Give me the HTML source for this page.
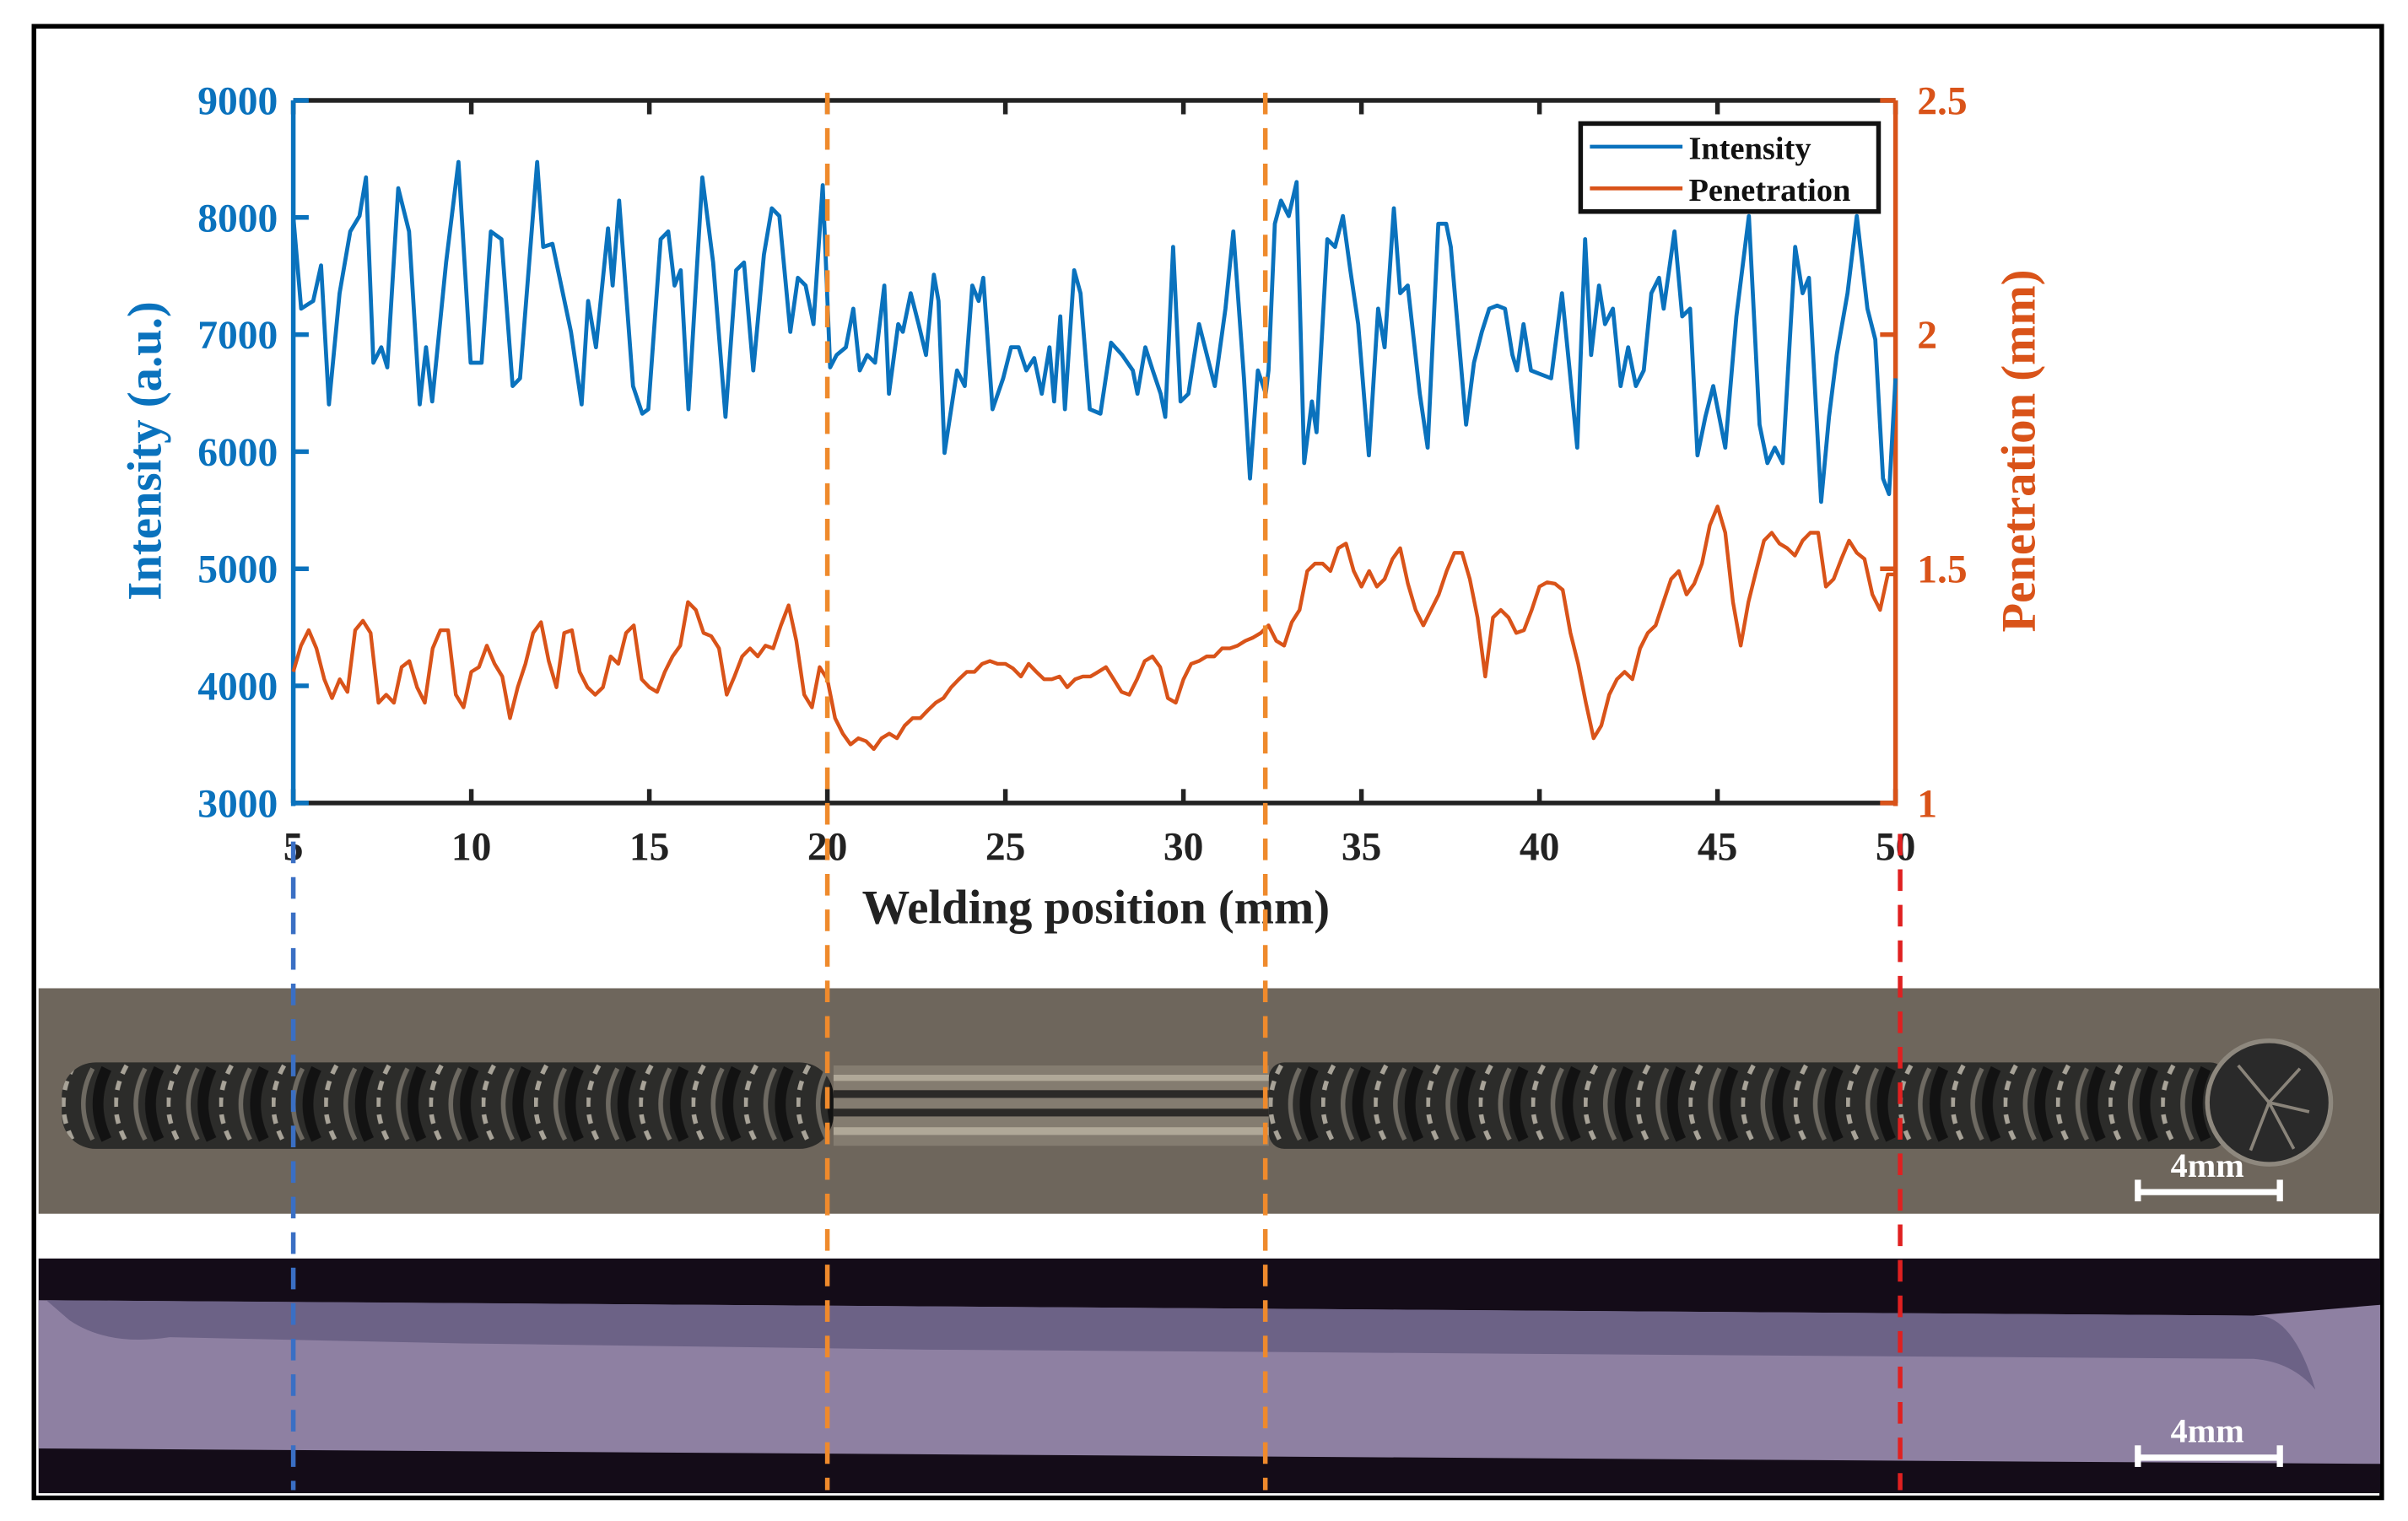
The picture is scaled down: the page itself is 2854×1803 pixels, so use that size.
<!DOCTYPE html>
<html><head><meta charset="utf-8"><style>
html,body{margin:0;padding:0;background:#fff;}
svg{display:block;}
text{font-family:"Liberation Serif",serif;font-weight:bold;}
</style></head><body>
<svg id="fig" width="2854" height="1803" viewBox="0 0 1560 985" preserveAspectRatio="none" xmlns="http://www.w3.org/2000/svg">
<defs>
<pattern id="ripple" x="40" y="0" width="34" height="985" patternUnits="userSpaceOnUse">
<rect x="0" y="0" width="34" height="985" fill="#2c2c2a"/>
<path d="M8,690 Q-6,715 8,740" stroke="#a8a398" stroke-width="3" fill="none" stroke-dasharray="6,5"/>
<path d="M20,692 Q8,715 20,738" stroke="#6e6a62" stroke-width="3" fill="none"/>
<path d="M29,692 Q18,715 29,738" stroke="#121212" stroke-width="7" fill="none"/>
</pattern>
</defs>
<rect x="0" y="0" width="1560" height="985" fill="#fff"/>
<rect x="22" y="17" width="1521" height="953" fill="none" stroke="#000" stroke-width="3"/>

<g>
<rect x="25" y="640" width="1517" height="146" fill="#6e665c"/>
<rect x="40" y="688" width="500" height="56" rx="22" fill="url(#ripple)"/>
<rect x="540" y="690" width="282" height="52" fill="#847c70"/>
<rect x="540" y="706" width="282" height="5" fill="#2c2a28"/>
<rect x="540" y="718" width="282" height="5" fill="#2c2a28"/>
<rect x="540" y="696" width="282" height="4" fill="#b0a898"/>
<rect x="540" y="730" width="282" height="5" fill="#b0a898"/>
<rect x="822" y="688" width="620" height="56" rx="10" fill="url(#ripple)"/>
<circle cx="1470" cy="714" r="40" fill="#2a2a2a" stroke="#8e887e" stroke-width="3"/>
<path d="M1470,714 L1450,690 M1470,714 L1490,692 M1470,714 L1496,720 M1470,714 L1458,745 M1470,714 L1486,744" stroke="#8a847a" stroke-width="2"/>
<line x1="1385" y1="772" x2="1477" y2="772" stroke="#fff" stroke-width="4"/>
<line x1="1385" y1="764" x2="1385" y2="778" stroke="#fff" stroke-width="4"/>
<line x1="1477" y1="764" x2="1477" y2="778" stroke="#fff" stroke-width="4"/>
<text x="1430" y="762" font-size="22" fill="#fff" text-anchor="middle">4mm</text>
</g>
<g>
<rect x="25" y="815" width="1517" height="152" fill="#140c18"/>
<path d="M25,842 L1460,852 L1542,845 L1542,948 L25,938 Z" fill="#8e80a2"/>
<path d="M30,842 L1460,852 Q1485,850 1500,900 Q1485,882 1460,880 L600,874 L300,870 L110,866 Q70,872 45,855 Z" fill="#6c6286"/>
<line x1="1385" y1="944" x2="1477" y2="944" stroke="#fff" stroke-width="4"/>
<line x1="1385" y1="936" x2="1385" y2="950" stroke="#fff" stroke-width="4"/>
<line x1="1477" y1="936" x2="1477" y2="950" stroke="#fff" stroke-width="4"/>
<text x="1430" y="934" font-size="22" fill="#fff" text-anchor="middle">4mm</text>
</g>

<g id="chart"></g>
<g id="overlay"></g>
</svg>
<script>
const xTicks=[5,10,15,20,25,30,35,40,45,50];
const yLeftTicks=[3000,4000,5000,6000,7000,8000,9000];
const yRightTicks=[1,1.5,2,2.5];
const yRightLabels=["1","1.5","2","2.5"];
const markerPositions=[5,20,32.3,50];
const intensityX=[5.0,5.22,5.56,5.78,6.0,6.3,6.6,6.86,7.04,7.25,7.47,7.64,7.95,8.25,8.55,8.73,8.9,9.29,9.64,9.98,10.29,10.55,10.85,11.16,11.37,11.85,12.02,12.28,12.8,13.1,13.28,13.5,13.84,13.97,14.15,14.54,14.8,14.97,15.32,15.53,15.71,15.88,16.1,16.49,16.79,17.14,17.44,17.66,17.92,18.22,18.44,18.65,18.96,19.17,19.39,19.61,19.87,20.08,20.26,20.52,20.73,20.91,21.12,21.34,21.6,21.73,21.99,22.12,22.34,22.56,22.77,22.99,23.12,23.29,23.64,23.86,24.07,24.25,24.38,24.64,24.94,25.16,25.37,25.59,25.81,26.02,26.24,26.37,26.54,26.67,26.93,27.11,27.37,27.67,27.97,28.28,28.58,28.71,28.93,29.14,29.36,29.49,29.71,29.92,30.14,30.44,30.88,31.18,31.4,31.7,31.87,32.09,32.31,32.39,32.57,32.74,32.96,33.18,33.39,33.61,33.74,34.04,34.26,34.48,34.69,34.91,35.21,35.47,35.65,35.91,36.09,36.3,36.64,36.86,37.16,37.38,37.51,37.94,38.16,38.38,38.59,38.81,39.03,39.24,39.37,39.55,39.76,39.98,40.33,40.63,40.85,41.06,41.28,41.45,41.67,41.84,42.06,42.28,42.49,42.71,42.93,43.14,43.36,43.49,43.79,44.01,44.23,44.44,44.66,44.88,45.22,45.53,45.88,46.18,46.4,46.61,46.83,47.18,47.39,47.57,47.91,48.13,48.35,48.65,48.91,49.21,49.43,49.65,49.82,50.0];
const intensityY=[8012,7221,7287,7590,6403,7353,7880,8012,8342,6759,6891,6720,8250,7880,6403,6891,6429,7616,8474,6759,6759,7880,7814,6561,6627,8474,7748,7775,7023,6403,7287,6891,7907,7419,8144,6561,6324,6363,7814,7880,7419,7550,6363,8342,7616,6297,7550,7616,6693,7682,8078,8012,7023,7485,7419,7089,8276,6720,6825,6891,7221,6693,6825,6759,7419,6495,7089,7023,7353,7089,6825,7511,7287,5990,6693,6561,7419,7287,7485,6363,6627,6891,6891,6693,6799,6495,6891,6429,7155,6363,7550,7353,6363,6324,6931,6825,6693,6495,6891,6693,6495,6297,7748,6429,6495,7089,6561,7221,7880,6627,5770,6693,6495,6693,7946,8144,8012,8302,5902,6429,6166,7814,7748,8012,7550,7089,5968,7221,6891,8078,7353,7419,6495,6034,7946,7946,7748,6231,6759,7023,7221,7247,7221,6825,6693,7089,6693,6667,6627,7353,6693,6034,7814,6825,7419,7089,7221,6561,6891,6561,6693,7353,7485,7221,7880,7155,7221,5968,6297,6561,6034,7155,8012,6231,5902,6034,5902,7748,7353,7485,5572,6297,6825,7353,8012,7221,6957,5770,5638,6627];
const penetration=[1.28,1.336,1.369,1.33,1.264,1.224,1.264,1.237,1.369,1.389,1.363,1.214,1.231,1.214,1.29,1.303,1.247,1.214,1.33,1.369,1.369,1.231,1.204,1.28,1.29,1.336,1.297,1.27,1.181,1.247,1.297,1.363,1.386,1.303,1.247,1.363,1.369,1.28,1.247,1.231,1.247,1.313,1.297,1.363,1.379,1.264,1.247,1.237,1.28,1.313,1.336,1.429,1.412,1.363,1.356,1.33,1.231,1.27,1.313,1.33,1.313,1.336,1.33,1.379,1.422,1.346,1.231,1.204,1.29,1.264,1.181,1.148,1.125,1.138,1.132,1.115,1.138,1.148,1.138,1.165,1.181,1.181,1.198,1.214,1.224,1.247,1.264,1.28,1.28,1.297,1.303,1.297,1.297,1.287,1.27,1.297,1.28,1.264,1.264,1.27,1.247,1.264,1.27,1.27,1.28,1.29,1.264,1.237,1.231,1.264,1.303,1.313,1.29,1.224,1.214,1.264,1.297,1.303,1.313,1.313,1.33,1.33,1.336,1.346,1.353,1.363,1.379,1.346,1.336,1.386,1.412,1.495,1.511,1.511,1.495,1.544,1.554,1.495,1.462,1.495,1.462,1.478,1.521,1.544,1.468,1.412,1.379,1.412,1.445,1.495,1.534,1.534,1.478,1.396,1.27,1.396,1.412,1.396,1.363,1.369,1.412,1.462,1.471,1.468,1.455,1.363,1.297,1.214,1.138,1.165,1.231,1.264,1.28,1.264,1.33,1.363,1.379,1.429,1.478,1.495,1.445,1.468,1.511,1.593,1.633,1.577,1.429,1.336,1.429,1.495,1.56,1.577,1.554,1.544,1.528,1.56,1.577,1.577,1.462,1.478,1.521,1.56,1.534,1.521,1.445,1.412,1.488,1.488];

const NS="http://www.w3.org/2000/svg";
const L=190,R=1228,T=65,B=520;
const BLUE="#0a72bd",ORANGE="#d95319";
function sx(v){return L+(v-5)/(50-5)*(R-L);}
function syL(v){return B-(v-3000)/(9000-3000)*(B-T);}
function syR(v){return B-(v-1)/(2.5-1)*(B-T);}
function mk(tag,attrs,parent){const e=document.createElementNS(NS,tag);for(const k in attrs)e.setAttribute(k,attrs[k]);parent.appendChild(e);return e;}
const g=document.getElementById('chart');
const ov=document.getElementById('overlay');

let box=mk('path',{d:`M${L},${B} L${R},${B} M${L},${T} L${R},${T}`,stroke:'#222',"stroke-width":3,fill:'none'},g);



xTicks.forEach(v=>{
  const x=sx(v);
  let t=mk('path',{d:`M${x},${B} L${x},${B-9} M${x},${T} L${x},${T+9}`,stroke:'#222',"stroke-width":3},g);
  
  
  let lb=mk('text',{x:x,y:B+37,"font-size":26,fill:'#222',"text-anchor":'middle'},g);
  lb.textContent=String(v);
  
  
});
let xt=mk('text',{x:710,y:598,"font-size":31,fill:'#222',"text-anchor":'middle'},g);
xt.textContent='Welding position (mm)';



let la=mk('line',{x1:L,y1:T,x2:L,y2:B+2,stroke:BLUE,"stroke-width":3},g);


yLeftTicks.forEach(v=>{
  const y=syL(v);
  let t=mk('line',{x1:L,y1:y,x2:L+10,y2:y,stroke:BLUE,"stroke-width":3},g);
  
  
  let lb=mk('text',{x:180,y:y+9,"font-size":26,fill:BLUE,"text-anchor":'end'},g);
  lb.textContent=String(v);
  
  
});
let ylt=mk('text',{x:0,y:0,"font-size":31,fill:BLUE,"text-anchor":'middle',transform:'translate(104,292) rotate(-90)'},g);
ylt.textContent='Intensity (a.u.)';



let ra=mk('line',{x1:R,y1:T,x2:R,y2:B+2,stroke:ORANGE,"stroke-width":3},g);


yRightTicks.forEach((v,i)=>{
  const y=syR(v);
  let t=mk('line',{x1:R-10,y1:y,x2:R,y2:y,stroke:ORANGE,"stroke-width":3},g);
  
  
  let lb=mk('text',{x:R+14,y:y+9,"font-size":26,fill:ORANGE,"text-anchor":'start'},g);
  lb.textContent=yRightLabels[i];
  
  
});
let yrt=mk('text',{x:0,y:0,"font-size":31,fill:ORANGE,"text-anchor":'middle',transform:'translate(1318,292) rotate(-90)'},g);
yrt.textContent='Penetration (mm)';



let d='';
intensityX.forEach((x,i)=>{d+=(i?'L':'M')+sx(x).toFixed(1)+','+syL(intensityY[i]).toFixed(1);});
let li=mk('path',{d:d,stroke:BLUE,"stroke-width":2.6,fill:'none',"stroke-linejoin":'round'},g);


d='';
const n=penetration.length;
penetration.forEach((p,i)=>{const x=5+i*(45/(n-1));d+=(i?'L':'M')+sx(x).toFixed(1)+','+syR(p).toFixed(1);});
let lp=mk('path',{d:d,stroke:ORANGE,"stroke-width":2.4,fill:'none',"stroke-linejoin":'round'},g);



const lg=mk('g',{},g);


mk('rect',{x:1024,y:80,width:193,height:57,fill:'#fff',stroke:'#111',"stroke-width":3},lg);
mk('line',{x1:1030,y1:95,x2:1090,y2:95,stroke:BLUE,"stroke-width":2.5},lg);
mk('line',{x1:1030,y1:122,x2:1090,y2:122,stroke:ORANGE,"stroke-width":2.5},lg);
let t1=mk('text',{x:1094,y:103,"font-size":21,fill:'#111'},lg);
t1.textContent='Intensity';


let t2=mk('text',{x:1094,y:130,"font-size":21,fill:'#111'},lg);
t2.textContent='Penetration';



const mColors=["#3a6fc4","#ef8a2c","#ef8a2c","#e02020"];
const mTop=[545,60,60,540];
markerPositions.forEach((m,i)=>{
  const x=sx(m)+(i===3?3:0);
  let l=mk('line',{x1:x,y1:mTop[i],x2:x,y2:965,stroke:mColors[i],"stroke-width":3,"stroke-dasharray":'14,9'},ov);
  
  
});
</script>
</body></html>
